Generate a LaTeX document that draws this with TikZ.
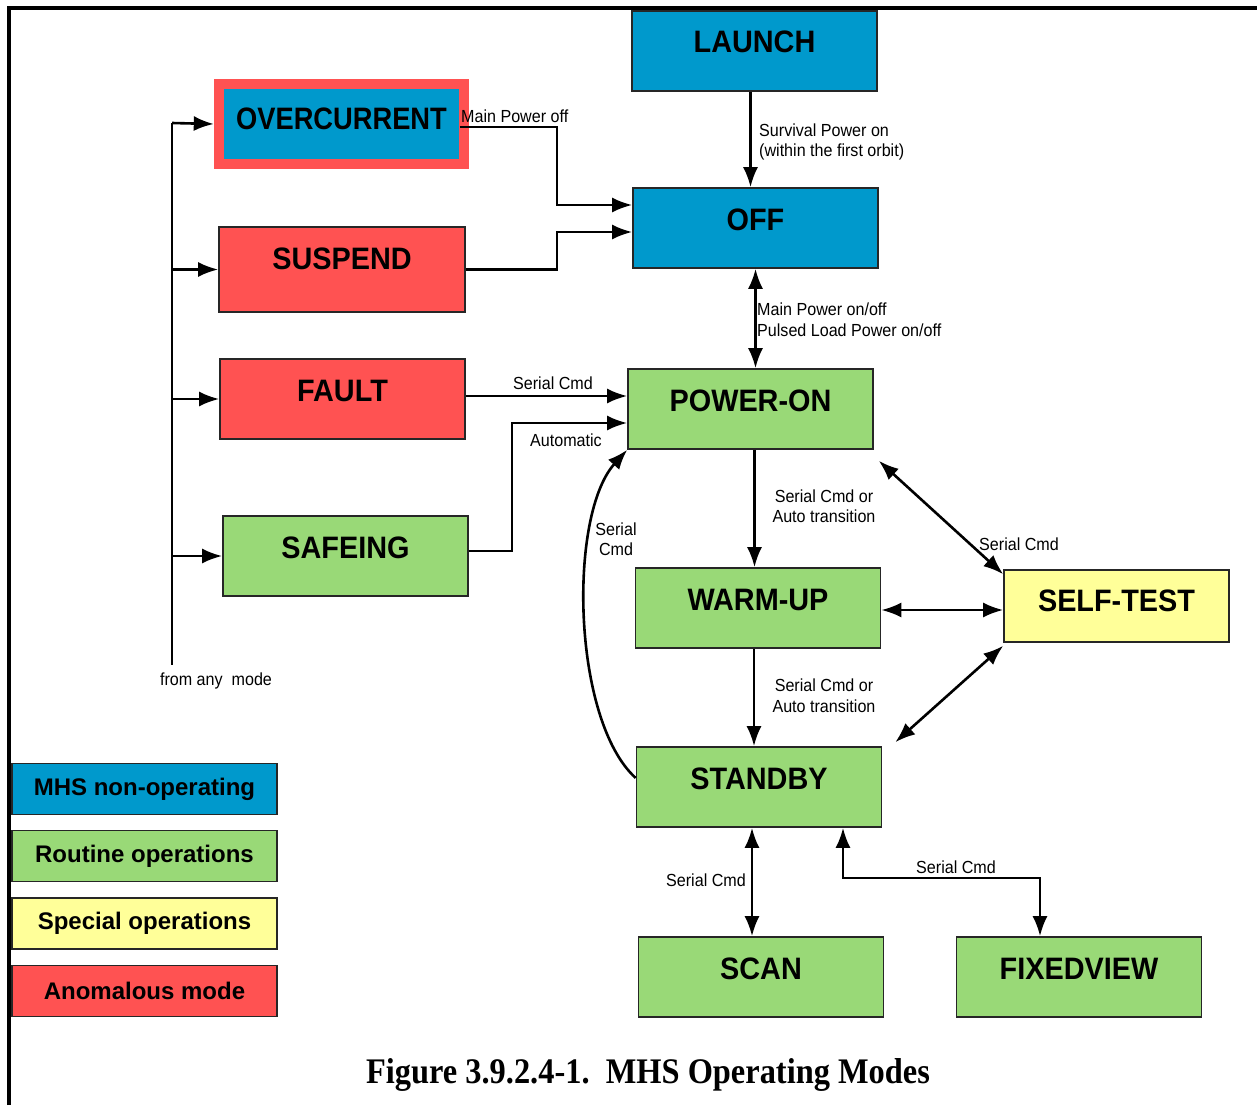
\documentclass[tikz,border=0pt]{standalone}
\usepackage{fontspec}
\setmainfont{Liberation Sans}
\newfontfamily\modefont[FakeStretch=0.93]{Liberation Sans}
\newfontfamily\narrowmodefont[FakeStretch=0.88]{Liberation Sans}
\newfontfamily\lblfont[FakeStretch=0.92]{Liberation Sans}
\newfontfamily\capfont[FakeStretch=0.9]{Liberation Serif}
\usetikzlibrary{arrows.meta}
\definecolor{mhsblue}{RGB}{0,153,204}
\definecolor{mhsgreen}{RGB}{153,217,119}
\definecolor{mhsyellow}{RGB}{255,255,153}
\definecolor{mhsred}{RGB}{255,82,82}
\begin{document}
\begin{tikzpicture}[x=1pt,y=-1pt,
    mode/.style={draw=black!85,line width=1.6pt,inner sep=0pt,minimum width=245pt,
        text height=42pt,text depth=38pt,font=\modefont\bfseries\fontsize{31}{31}\selectfont},
    legend/.style={draw=black!85,line width=1.6pt,inner sep=0pt,minimum width=265pt,minimum height=51pt,
        font=\bfseries\fontsize{24}{24}\selectfont},
    lbl/.style={inner sep=0pt,align=center,font=\lblfont\fontsize{17.5}{20.5}\selectfont},
    link/.style={line width=2.6pt},
    >={Latex[length=20pt,width=15pt]}]
\useasboundingbox (0,0) rectangle (1257,1105);
\draw[line width=4pt] (9,1105) -- (9,8) -- (1257,8);

\node[mode,fill=mhsblue] (launch) at (754.5,51) {LAUNCH};
\node[mode,fill=mhsblue] (off) at (755.5,228) {OFF};
\node[fill=mhsred,minimum width=255pt,minimum height=90pt] (ovcframe) at (341.5,124) {};
\node[mode,draw=none,fill=mhsblue,minimum width=235pt,text height=40pt,text depth=30pt,
    font=\narrowmodefont\bfseries\fontsize{31}{31}\selectfont] (ovc) at (341.5,124) {OVERCURRENT};
\node[mode,fill=mhsred,minimum width=246pt,text depth=43pt] (susp) at (342,269.5) {SUSPEND};
\node[mode,fill=mhsred] (fault) at (342.5,399) {FAULT};
\node[mode,fill=mhsgreen] (safe) at (345.5,556) {SAFEING};
\node[mode,fill=mhsgreen] (powon) at (750.5,409) {POWER-ON};
\node[mode,fill=mhsgreen] (warm) at (758,608) {WARM-UP};
\node[mode,fill=mhsyellow,minimum width=225pt,text height=41pt,text depth=31pt] (selftest) at (1116.5,606) {SELF-TEST};
\node[mode,fill=mhsgreen] (standby) at (759,787) {STANDBY};
\node[mode,fill=mhsgreen] (scan) at (761,977) {SCAN};
\node[mode,fill=mhsgreen] (fixed) at (1079,977) {FIXEDVIEW};

\node[legend,fill=mhsblue] (lgblue) at (144.5,789) {MHS non-operating};
\node[legend,fill=mhsgreen] (lggreen) at (144.5,856) {Routine operations};
\node[legend,fill=mhsyellow] (lgyellow) at (144.5,923.5) {Special operations};
\node[legend,fill=mhsred] (lgred) at (144.5,991) {Anomalous mode};

\coordinate (bustop) at (172,123);
\coordinate (busbot) at (172,665);

\begin{scope}[link]
    \draw (bustop) -- (busbot);
    \draw[->] (bustop) -- (ovcframe.west);
    \draw[->] (bustop |- susp.west) -- (susp.west);
    \draw[->] (bustop |- fault.west) -- (fault.west);
    \draw[->] (bustop |- safe.west) -- (safe.west);

    \draw[->] ([xshift=-4pt]launch.south) -- ([xshift=-4pt]launch.south |- off.north);
    \draw[<->] (off.south) -- (off.south |- powon.north);
    \draw[->] ([yshift=-3pt]ovc.east) -- ++(97,0) |- ([yshift=23pt]off.west);
    \draw[->] (susp.east) -- ++(91,0) |- ([yshift=-4pt]off.west);
    \draw[->] ([yshift=3pt]fault.east) -- ([yshift=3pt]fault.east -| powon.west);
    \draw[->] ([yshift=5pt]safe.east) -- ++(43,0) |- ([yshift=-14pt]powon.west);
    \draw[->] ([yshift=9pt]standby.west) .. controls (572,720) and (568,515) .. (powon.south west);
    \draw[->] ([xshift=4pt]powon.south) -- ([xshift=4pt]powon.south |- warm.north);
    \draw[->] ([xshift=-4pt]warm.south) -- ([xshift=-4pt]warm.south |- standby.north);
    \draw[<->] ([shift={(5,11)}]powon.south east) -- ([yshift=-5pt]selftest.north west);
    \draw[<->] ([yshift=-2pt]warm.east) -- ([yshift=-2pt]warm.east -| selftest.west);
    \draw[<->] ([shift={(13,-4)}]standby.north east) -- ([yshift=-3pt]selftest.south west);
    \draw[<->] ([xshift=-7pt]standby.south) -- ([xshift=-7pt]standby.south |- scan.north);
    \draw[<->] ([xshift=84pt]standby.south) -- ++(0,50) -| ([xshift=-39pt]fixed.north);
\end{scope}

\node[lbl,anchor=west,align=left] (lsurv) at (759,142) {Survival Power on\\(within the first orbit)};
\node[lbl,anchor=west,align=left] (lmain) at (757,319.5) {Main Power on/off\\Pulsed Load Power on/off};
\node[lbl,anchor=west] (loff) at (461,116) {Main Power off};
\node[lbl] (lfault) at (553,383) {Serial Cmd};
\node[lbl] (lauto) at (566,440) {Automatic};
\node[lbl] (lcurve) at (616,539) {Serial\\Cmd};
\node[lbl] (lwarm) at (824,506) {Serial Cmd or\\Auto transition};
\node[lbl] (lstby) at (824,695.5) {Serial Cmd or\\Auto transition};
\node[lbl] (ltest) at (1019,544) {Serial Cmd};
\node[lbl] (lscan) at (706,880) {Serial Cmd};
\node[lbl] (lfixed) at (956,867) {Serial Cmd};
\node[lbl] (lany) at (216,681) {from any\ \ mode};

\node[inner sep=0pt,font=\capfont\bfseries\fontsize{36}{36}\selectfont] (caption) at (648,1075) {Figure 3.9.2.4-1.\ \ MHS Operating Modes};
\end{tikzpicture}
\end{document}
